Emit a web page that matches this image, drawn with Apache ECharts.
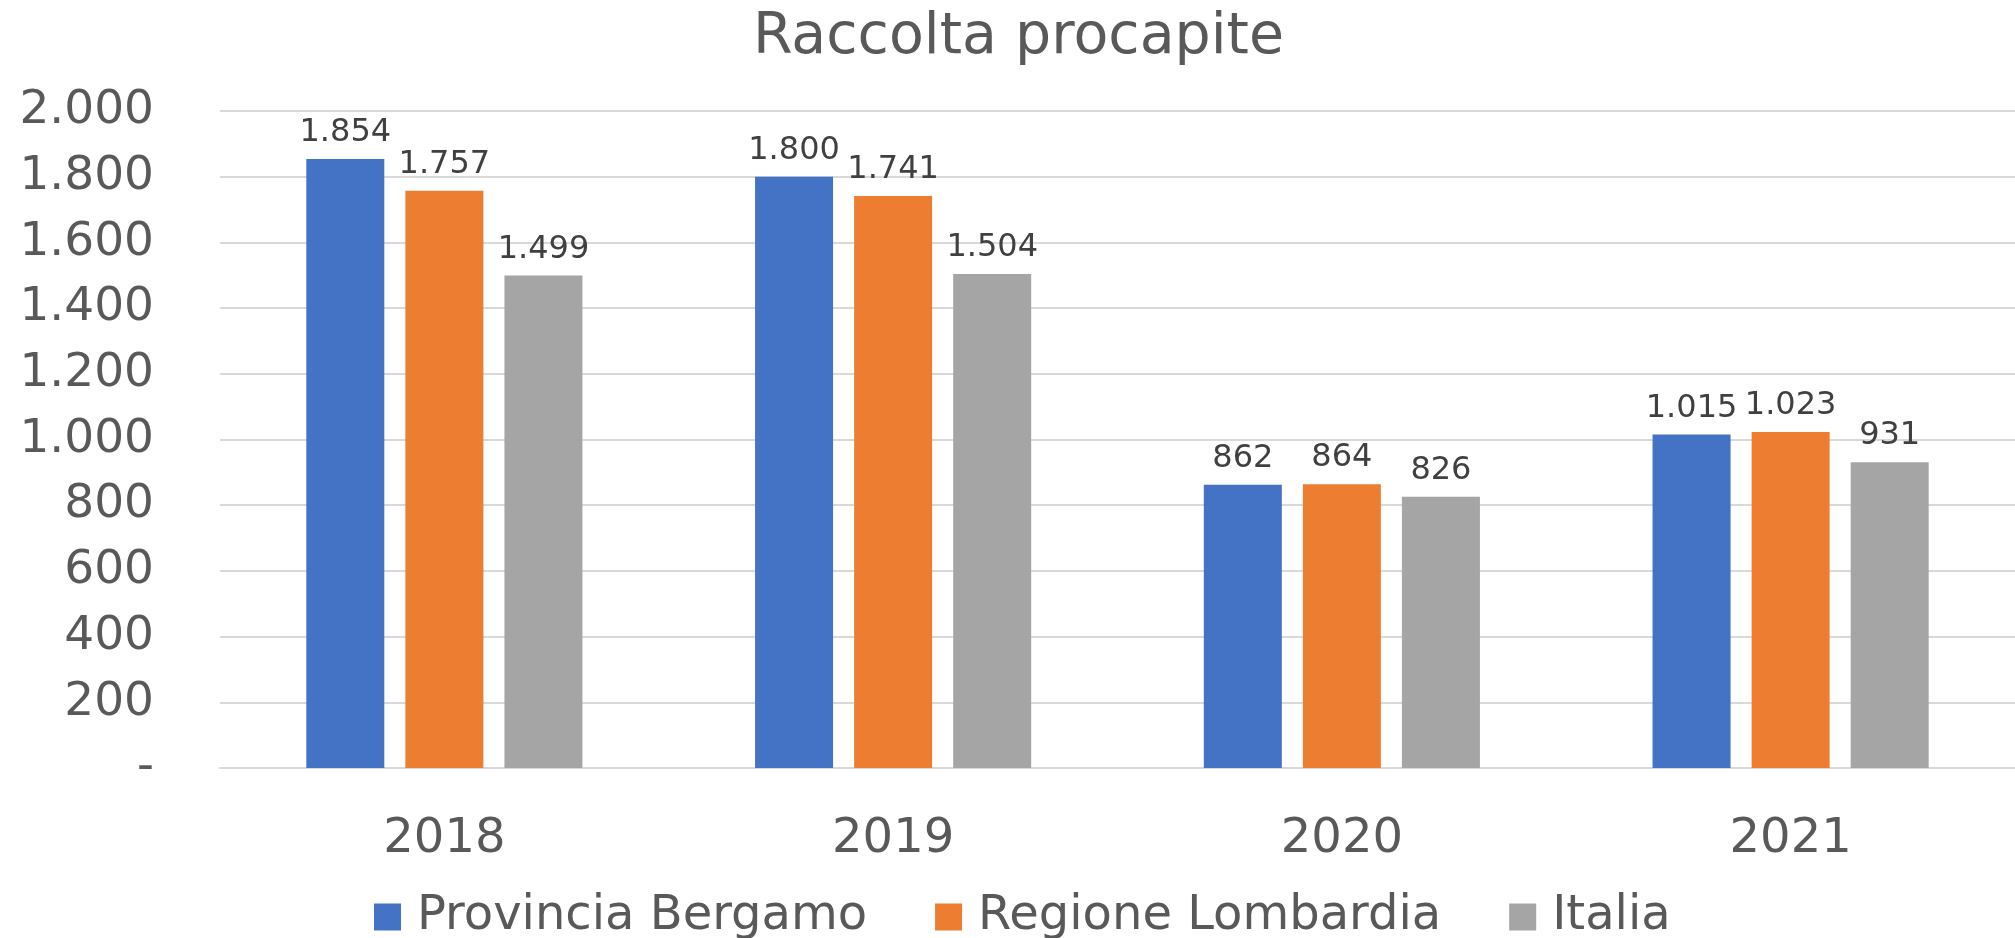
<!DOCTYPE html>
<html>
<head>
<meta charset="utf-8">
<title>Raccolta procapite</title>
<script src="https://cdn.jsdelivr.net/npm/echarts@6/dist/echarts.min.js"></script>
<style>
    html, body { margin: 0; padding: 0; background: #fff; }
    #chart { width: 2015px; height: 938px; }
</style>
</head>
<body>
<div id="chart"></div>
<script>
// dati
var anni = ['2018', '2019', '2020', '2021'];
var bergamo = [1854, 1800, 862, 1015];
var lombardia = [1757, 1741, 864, 1023];
var italia = [1499, 1504, 826, 931];
var serieNomi = ['Provincia Bergamo', 'Regione Lombardia', 'Italia'];
var colori = ['#4472C4', '#ED7D31', '#A5A5A5'];

// separatore delle migliaia con il punto
function fmt(v) {
    if (v === 0) return '-';
    return String(v).replace(/\B(?=(\d{3})+(?!\d))/g, '.');
}

var myChart = echarts.init(document.getElementById('chart'));

function serie(nome, dati) {
    return {
        name: nome,
        type: 'bar',
        data: dati,
        barWidth: 78,
        barGap: '27%',
        label: {
            show: true,
            position: 'top',
            distance: 10,
            color: '#404040',
            fontSize: 32,
            fontFamily: 'DejaVu Sans',
            formatter: function (p) { return fmt(p.value); }
        }
    };
}

var option = {
    color: colori,
    animation: false,
    textStyle: { fontFamily: 'DejaVu Sans' },
    title: {
        text: 'Raccolta procapite',
        left: 753,
        top: 10,
        padding: 0,
        textStyle: {
            color: '#595959',
            fontSize: 57,
            fontWeight: 'normal',
            fontFamily: 'DejaVu Sans'
        }
    },
    legend: {
        data: serieNomi,
        left: 374,
        top: 893,
        padding: 0,
        icon: 'rect',
        itemWidth: 27,
        itemHeight: 27,
        itemGap: 68,
        textStyle: {
            color: '#595959',
            fontSize: 48,
            fontFamily: 'DejaVu Sans',
            padding: [0, 0, 0, 11]
        }
    },
    grid: {
        left: 220,
        top: 111,
        width: 1800,
        height: 657,
        containLabel: false
    },
    xAxis: {
        type: 'category',
        data: anni,
        axisTick: { show: false },
        axisLine: { lineStyle: { color: '#D9D9D9', width: 2 } },
        axisLabel: {
            color: '#595959',
            fontSize: 48,
            margin: 48
        }
    },
    yAxis: {
        type: 'value',
        min: 0,
        max: 2000,
        interval: 200,
        axisLine: { show: false },
        axisTick: { show: false },
        splitLine: { lineStyle: { color: '#D9D9D9', width: 2 } },
        axisLabel: {
            color: '#595959',
            fontSize: 47,
            margin: 66,
            padding: [12, 0, 0, 0],
            formatter: fmt
        }
    },
    series: [
        serie(serieNomi[0], bergamo),
        serie(serieNomi[1], lombardia),
        serie(serieNomi[2], italia)
    ]
};

myChart.setOption(option);
</script>
</body>
</html>
